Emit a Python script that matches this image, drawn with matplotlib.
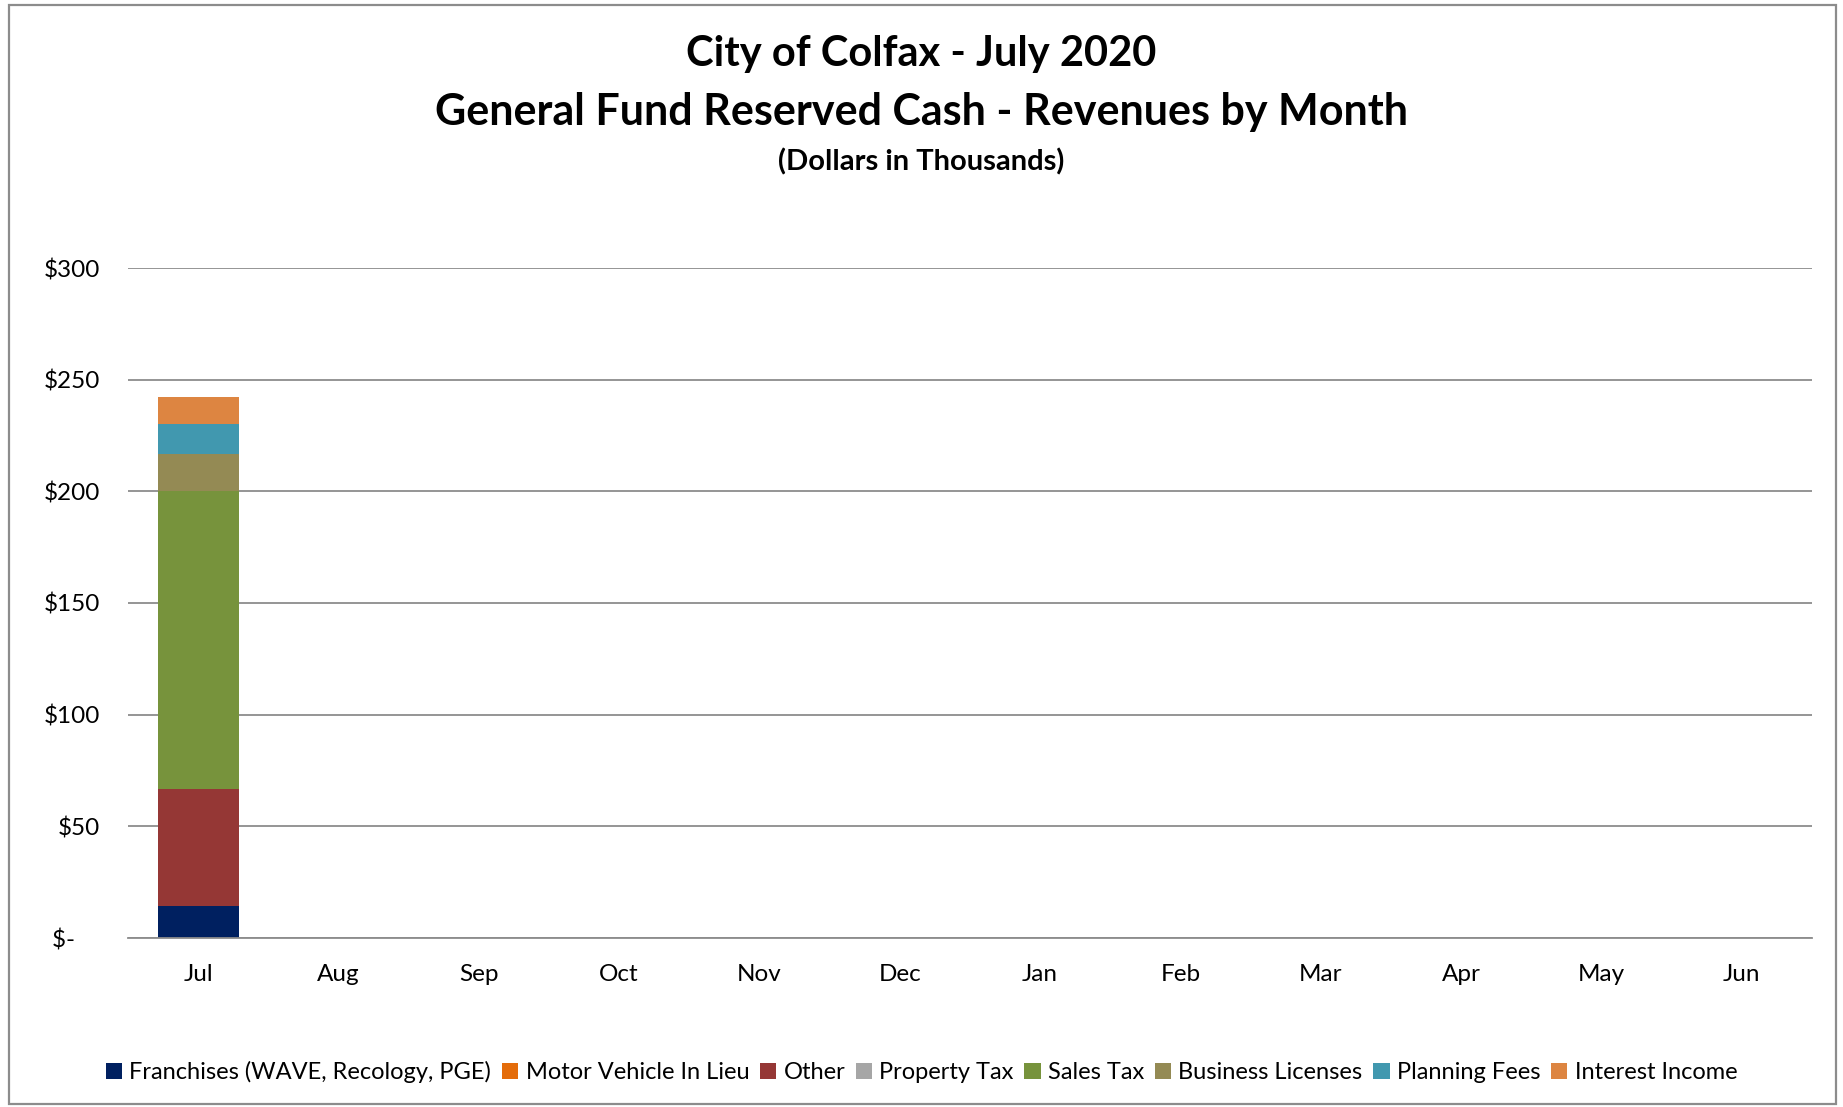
import matplotlib
matplotlib.use("Agg")
import matplotlib.pyplot as plt
from matplotlib.patches import Rectangle
import numpy as np

months = ["Jul", "Aug", "Sep", "Oct", "Nov", "Dec", "Jan", "Feb", "Mar", "Apr", "May", "Jun"]
series_names = ["Franchises (WAVE, Recology, PGE)", "Motor Vehicle In Lieu", "Other",
                "Property Tax", "Sales Tax", "Business Licenses", "Planning Fees", "Interest Income"]
franchises = [14.4] + [0] * 11
motor_vehicle = [0] * 12
other = [52.5] + [0] * 11
property_tax = [0] * 12
sales_tax = [133.4] + [0] * 11
business_licenses = [16.6] + [0] * 11
planning_fees = [13.4] + [0] * 11
interest_income = [11.9] + [0] * 11
colors = ["#002060", "#E46C0A", "#953735", "#A6A6A6", "#77933C", "#948A54", "#4198AF", "#DD8541"]
yticks = [0, 50, 100, 150, 200, 250, 300]
ytick_labels = ["$-    ", "$50", "$100", "$150", "$200", "$250", "$300"]

series = [franchises, motor_vehicle, other, property_tax, sales_tax,
          business_licenses, planning_fees, interest_income]

plt.rcParams['font.family'] = ['Lato', 'DejaVu Sans']

W, H = 1843, 1107
fig = plt.figure(figsize=(W / 100, H / 100), dpi=100)
fig.patches.append(Rectangle((9 / W, 1 - 1104 / H), (1836 - 9) / W, (1104 - 5) / H,
                             transform=fig.transFigure, fill=False,
                             edgecolor="#8C8C8C", linewidth=1.6))

ax = fig.add_axes([128 / W, 1 - 938 / H, (1812 - 128) / W, (938 - 268) / H])
x = np.arange(len(months))
bottom = np.zeros(len(months))
handles = []
for name, vals, c in zip(series_names, series, colors):
    v = np.array(vals, dtype=float)
    h = ax.bar(x, v, width=0.575, bottom=bottom, color=c, label=name, linewidth=0)
    handles.append(h)
    bottom += v

ax.set_xlim(-0.5, len(months) - 0.5)
ax.set_ylim(0, 300)
ax.set_yticks(yticks)
ax.set_yticklabels(ytick_labels)
ax.set_xticks(x)
ax.set_xticklabels(months)
ax.yaxis.grid(True, color="#8C8C8C", linewidth=1.3)
ax.set_axisbelow(True)
for s in ["top", "right", "left"]:
    ax.spines[s].set_visible(False)
ax.spines["bottom"].set_color("#8C8C8C")
ax.spines["bottom"].set_linewidth(1.3)
ax.tick_params(axis="both", length=0, labelsize=17.5, colors="#000000")
ax.tick_params(axis="y", pad=20)
ax.tick_params(axis="x", pad=18.5)

fig.text(0.5, 1 - 54 / H, "City of Colfax - July 2020", ha="center", va="center",
         fontsize=30, fontweight="bold")
fig.text(0.5, 1 - 112 / H, "General Fund Reserved Cash - Revenues by Month", ha="center",
         va="center", fontsize=31, fontweight="bold")
fig.text(0.5, 1 - 162 / H, "(Dollars in Thousands)", ha="center", va="center",
         fontsize=21, fontweight="bold")

fig.legend(handles=handles, labels=series_names, loc="center", bbox_to_anchor=(0.5, 1 - 1072 / H),
           ncol=8, frameon=False, fontsize=17, handlelength=0.7, handleheight=0.7,
           handletextpad=0.3, columnspacing=0.45)

fig.savefig("out.png", dpi=100)
